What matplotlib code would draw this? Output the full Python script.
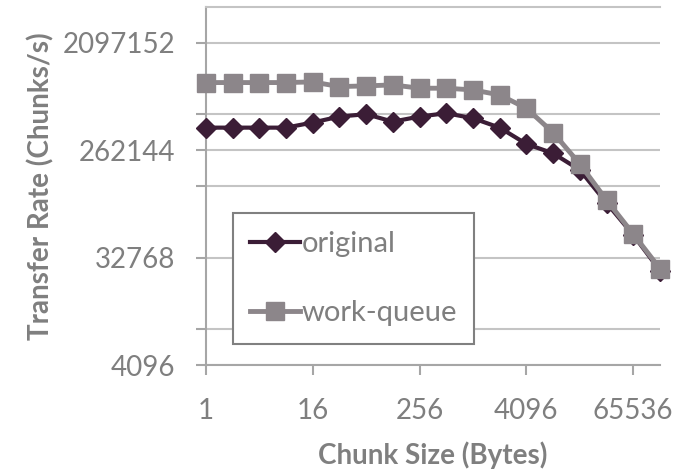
import matplotlib.pyplot as plt
from matplotlib.ticker import FixedLocator, NullFormatter

# chunk sizes 1 .. 131072 bytes
chunk_sizes = [2 ** k for k in range(18)]
original = [406000, 406000, 406000, 406000, 448000, 503000, 527000, 456000, 503000,
            537000, 487000, 406000, 296000, 247000, 179000, 94500, 50800, 25500]
work_queue = [972000, 972000, 972000, 972000, 984000, 899000, 911000, 929000, 871000,
              871000, 843000, 765000, 591000, 369000, 201000, 100000, 51800, 26500]
y_labels = [4096, 32768, 262144, 2097152]
x_labels = [1, 16, 256, 4096, 65536]

plt.rcParams['font.family'] = ['Lato', 'DejaVu Sans']
text_gray = '#7f7f7f'
axis_gray = '#a6a6a6'
grid_gray = '#c4c4c4'

fig = plt.figure(figsize=(6.86, 4.70), dpi=100)
ax = fig.add_axes([0.300, 0.2234, 0.662, 0.7616])

ax.plot(chunk_sizes, original, color='#3b1d36', lw=3, marker='D', ms=10.5,
        label='original', clip_on=False, zorder=3)
ax.plot(chunk_sizes, work_queue, color='#8c868a', lw=3.5, marker='s', ms=12.5,
        label='work-queue', clip_on=False, zorder=4)

ax.set_xscale('log', base=2)
ax.set_yscale('log', base=2)
ax.set_xlim(1, 2 ** 17)
ax.set_ylim(2 ** 12, 2 ** 22)

ax.xaxis.set_major_locator(FixedLocator(x_labels))
ax.set_xticklabels([str(v) for v in x_labels])
ax.xaxis.set_minor_locator(FixedLocator([]))
ax.yaxis.set_major_locator(FixedLocator(y_labels))
ax.set_yticklabels([str(v) for v in y_labels])
ax.yaxis.set_minor_locator(FixedLocator([2 ** 13, 2 ** 17, 2 ** 19]))
ax.yaxis.set_minor_formatter(NullFormatter())

ax.grid(axis='y', which='both', color=grid_gray, lw=1.5)
ax.set_axisbelow(True)

ax.spines['right'].set_visible(False)
ax.spines['top'].set_color(grid_gray)
ax.spines['top'].set_linewidth(1.5)
for side in ['left', 'bottom']:
    ax.spines[side].set_color(axis_gray)
    ax.spines[side].set_linewidth(1.5)

ax.tick_params(axis='x', which='major', direction='out', length=7, width=1.5,
               color=axis_gray, labelcolor=text_gray, labelsize=20, pad=17)
ax.tick_params(axis='y', which='both', direction='out', length=7, width=1.5,
               color=axis_gray, labelcolor=text_gray, labelsize=20, pad=15)

ax.set_xlabel('Chunk Size (Bytes)', fontsize=20, fontweight='bold', color=text_gray, labelpad=12)
ax.set_ylabel('Transfer Rate (Chunks/s)', fontsize=20, fontweight='bold', color=text_gray, labelpad=6)

leg = ax.legend(loc='lower left', bbox_to_anchor=(0.0595, 0.0587), borderaxespad=0,
                fontsize=21, labelcolor=text_gray, fancybox=False, framealpha=1,
                edgecolor='#808080', handlelength=1.7, handletextpad=0.05,
                labelspacing=1.5, borderpad=0.6)
leg.get_frame().set_linewidth(1.5)

fig.savefig('out.png', dpi=100)
